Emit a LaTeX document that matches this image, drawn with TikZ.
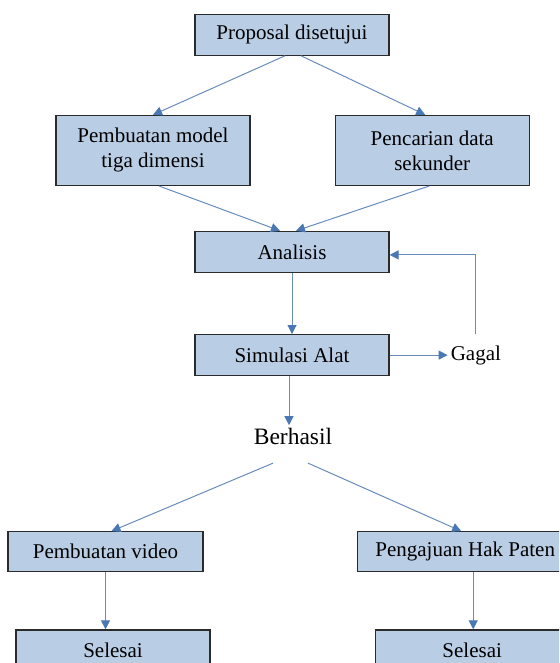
\documentclass[tikz,border=0pt]{standalone}
\usepackage{fontspec}
\setmainfont{Liberation Serif}
\newfontfamily\chartfont{Liberation Serif}
\usetikzlibrary{arrows.meta,positioning,calc}

\definecolor{boxfill}{HTML}{B9CDE5}
\definecolor{boxline}{HTML}{2B2B2B}
\definecolor{flowline}{HTML}{6A8CBC}
\definecolor{flowtip}{HTML}{4A78B4}

\begin{document}
\begin{tikzpicture}[
  x=1pt, y=-1pt,
  stage/.style={
    draw=boxline,
    fill=boxfill,
    line width=1.2pt,
    minimum width=194pt,
    minimum height=41pt,
    align=center,
    inner sep=4pt,
    font=\chartfont\fontsize{21}{25}\selectfont
  },
  outcome/.style={
    inner sep=3pt,
    font=\chartfont\fontsize{21}{25}\selectfont
  },
  flow/.style={-{Triangle[length=9pt,width=9pt,color=flowtip]}, draw=flowline, line width=1pt}
]

\useasboundingbox (0,0) rectangle (559,663);
\clip (0,0) rectangle (559,663);

\node[stage] (proposal) at (292,34.7) {Proposal disetujui};
\node[stage, minimum height=70pt, below=59pt of proposal, xshift=-139pt] (model)
  {Pembuatan model\\tiga dimensi};
\node[stage, minimum height=70pt, right=84pt of model] (search)
  {Pencarian data\\sekunder};

\draw[flow] ([xshift=-7pt]proposal.south) -- (model.north);
\draw[flow] ([xshift=9pt]proposal.south) -- ([xshift=-7pt]search.north);

\node[stage, below=175pt of proposal] (analisis) {Analisis};
\draw[flow] ([xshift=6pt]model.south) -- ([xshift=-12pt]analisis.north);
\draw[flow] ([xshift=-3pt]search.south) -- ([xshift=4pt]analisis.north);

\node[stage, below=61pt of analisis] (simulasi) {Simulasi Alat};
\node[outcome, right=58pt of simulasi] (gagal) {Gagal};
\draw[flow] (analisis) -- (simulasi);
\draw[flow] (simulasi) -- (gagal);
\draw[flow] ([yshift=8pt]gagal.north) |- ([yshift=-3pt]analisis.east);

\node[outcome, font=\chartfont\fontsize{23.5}{28}\selectfont, below=49pt of simulasi, xshift=1pt] (berhasil)
  {Berhasil};
\draw[flow] ([xshift=-3pt]simulasi.south) -- ([xshift=-4pt]berhasil.north);

\node[stage, minimum width=195pt, minimum height=40pt, below=83pt of berhasil, xshift=-187.5pt] (video)
  {Pembuatan video};
\node[stage, minimum width=216pt, minimum height=40pt, right=153pt of video] (patent)
  {Pengajuan Hak Paten};
\draw[flow] ([xshift=-20pt,yshift=-15pt]berhasil.south) -- ([xshift=6pt]video.north);
\draw[flow] ([xshift=15pt,yshift=-15pt]berhasil.south) -- ([xshift=-4pt]patent.north);

\node[stage, below=57pt of video, xshift=7.5pt] (finishA) {Selesai};
\node[stage, below=57pt of patent, xshift=7pt] (finishB) {Selesai};
\draw[flow] (video.south) -- (video.south |- finishA.north);
\draw[flow] ([xshift=8pt]patent.south) -- ([xshift=8pt]patent.south |- finishB.north);
\end{tikzpicture}
\end{document}
